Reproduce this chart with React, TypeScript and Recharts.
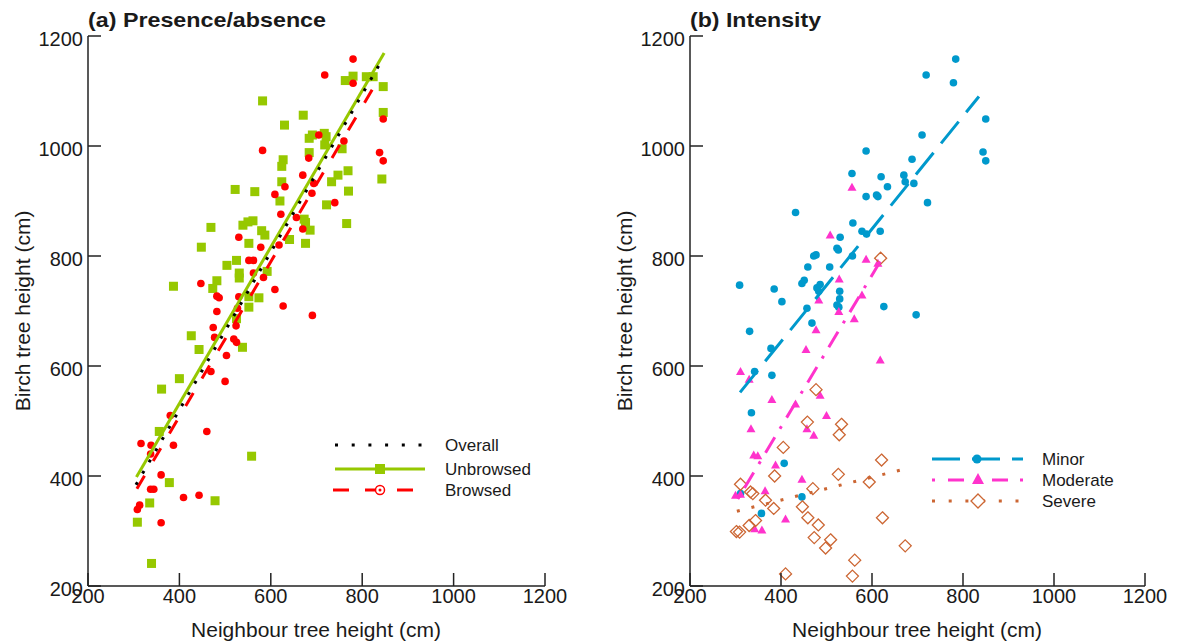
import React from "react";
import { ScatterChart, Scatter, XAxis, YAxis } from "recharts";

const FONT = '"Liberation Sans", Arial, sans-serif';
const INK = "#1a1a1a";
const AXIS = "#222222";

const GREEN = "#96c800";
const RED = "#ff0000";
const BLUE = "#0099cc";
const PINK = "#ff33cc";
const ORANGE = "#cc6633";

const axisTicks = [200, 400, 600, 800, 1000, 1200];

// (a) presence/absence of browsing: [neighbour height, birch height]
const unbrowsedPts = [
  [780, 1127], [763, 1119], [809, 1126], [824, 1126], [846, 1108], [582, 1082],
  [846, 1061], [671, 1056], [630, 1038], [684, 1014], [691, 1020], [717, 1023],
  [721, 1017], [718, 1002], [684, 988], [756, 995], [627, 975], [624, 963],
  [843, 940], [769, 955], [747, 947], [733, 935], [624, 935], [522, 921],
  [565, 917], [620, 900], [770, 918], [722, 893], [673, 867], [676, 861],
  [686, 847], [766, 859], [539, 856], [550, 862], [561, 864], [469, 852],
  [580, 846], [587, 838], [552, 823], [641, 830], [676, 823], [448, 816],
  [504, 783], [525, 792], [531, 769], [531, 760], [592, 772], [482, 755],
  [473, 741], [387, 745], [552, 726], [574, 724], [552, 707], [525, 686],
  [426, 655], [443, 630], [538, 634], [400, 577], [361, 558], [356, 481],
  [558, 436], [378, 388], [478, 355], [335, 351], [308, 316], [339, 241],
];

const browsedPts = [
  [780, 1158], [718, 1129], [780, 1114], [846, 1049], [705, 1020], [582, 992],
  [760, 1009], [683, 978], [838, 988], [846, 973], [670, 947], [631, 926],
  [694, 932], [690, 914], [609, 912], [740, 897], [622, 876], [656, 870],
  [670, 849], [530, 834], [578, 816], [618, 820], [562, 792], [552, 792],
  [562, 769], [584, 761], [447, 750], [482, 727], [487, 724], [530, 726],
  [609, 739], [627, 709], [691, 692], [482, 699], [527, 705], [524, 673],
  [474, 670], [477, 652], [503, 619], [519, 649], [525, 643], [469, 590],
  [500, 572], [460, 481], [380, 510], [316, 459], [338, 456], [387, 456],
  [337, 440], [360, 402], [409, 361], [443, 365], [337, 376], [344, 376],
  [313, 347], [308, 339], [360, 315],
];

const overallFit = [[305, 384], [846, 1160]];
const unbrowsedFit = [[306, 398], [848, 1169]];
const browsedFit = [[307, 377], [838, 1125]];

// (b) browsing intensity
const minorPts = [
  [784, 1158], [719, 1129], [779, 1115], [850, 1049], [844, 989], [850, 973],
  [710, 1020], [587, 991], [688, 976], [556, 950], [620, 944], [670, 947],
  [673, 935], [692, 932], [634, 926], [587, 908], [610, 911], [613, 908],
  [722, 897], [432, 879], [558, 860], [578, 845], [588, 840], [618, 845],
  [530, 834], [477, 802], [472, 800], [523, 814], [526, 811], [557, 800],
  [459, 780], [507, 780], [451, 756], [446, 750], [309, 747], [385, 740],
  [479, 742], [483, 736], [486, 748], [529, 736], [402, 717], [457, 705],
  [523, 711], [626, 708], [468, 678], [529, 722], [527, 707], [697, 693],
  [331, 663], [378, 632], [342, 590], [380, 583], [335, 515], [407, 423],
  [446, 362], [357, 332], [311, 368],
];

const moderatePts = [
  [556, 925], [508, 838], [587, 794], [613, 787], [528, 758], [578, 729],
  [483, 720], [527, 699], [561, 686], [477, 666], [455, 630], [618, 611],
  [311, 590], [330, 576], [486, 547], [380, 539], [432, 531], [500, 510],
  [457, 486], [472, 474], [334, 486], [340, 438], [349, 437], [388, 420],
  [446, 394], [311, 367], [365, 373], [300, 365], [410, 322], [342, 304],
  [358, 302],
];

const severePts = [
  [619, 796], [477, 557], [458, 498], [533, 494], [528, 475], [405, 452],
  [386, 400], [526, 403], [621, 429], [594, 389], [311, 385], [333, 371],
  [338, 368], [366, 356], [384, 341], [470, 377], [447, 344], [459, 324],
  [344, 319], [330, 310], [302, 299], [309, 298], [482, 311], [473, 288],
  [509, 284], [498, 269], [623, 324], [673, 273], [562, 247], [557, 218],
  [410, 222],
];

const minorFit = [[310, 552], [835, 1090]];
const moderateFit = [[305, 358], [618, 790]];
const severeFit = [[303, 336], [668, 412]];

const toPts = (a: number[][]) => a.map(([x, y]) => ({ x, y }));

const Square = (p: any) => (
  <rect x={p.cx - 4.5} y={p.cy - 4.5} width={9} height={9} fill={GREEN} />
);
const RedDot = (p: any) => <circle cx={p.cx} cy={p.cy} r={3.8} fill={RED} />;
const BlueDot = (p: any) => <circle cx={p.cx} cy={p.cy} r={3.8} fill={BLUE} />;
const Tri = (p: any) => (
  <polygon
    points={`${p.cx},${p.cy - 4.5} ${p.cx + 4.5},${p.cy + 3.5} ${p.cx - 4.5},${p.cy + 3.5}`}
    fill={PINK}
  />
);
const Diamond = (p: any) => (
  <polygon
    points={`${p.cx},${p.cy - 6} ${p.cx + 6},${p.cy} ${p.cx},${p.cy + 6} ${p.cx - 6},${p.cy}`}
    fill="none"
    stroke={ORANGE}
    strokeWidth={1.3}
  />
);
const NoDot = () => <g />;

const XTick = (props: any) => {
  const { x, y, payload } = props;
  return (
    <g>
      <line x1={x} y1={y} x2={x} y2={y - 13} stroke={AXIS} strokeWidth={1.5} />
      <text x={x} y={y + 17} textAnchor="middle" fontSize={20} fontFamily={FONT} fill={INK}>
        {payload.value}
      </text>
    </g>
  );
};

const YTick = (props: any) => {
  const { x, y, payload } = props;
  return (
    <g>
      <line x1={x} y1={y} x2={x + 13} y2={y} stroke={AXIS} strokeWidth={1.5} />
      <text x={x - 5} y={y + 10} textAnchor="end" fontSize={20} fontFamily={FONT} fill={INK}>
        {payload.value}
      </text>
    </g>
  );
};

function Axes() {
  return (
    <>
      <XAxis
        type="number"
        dataKey="x"
        domain={[200, 1200]}
        ticks={axisTicks}
        interval={0}
        tickSize={0}
        tickMargin={0}
        tickLine={false}
        tick={<XTick />}
        axisLine={{ stroke: AXIS, strokeWidth: 1.5 }}
        height={30}
        allowDataOverflow
      />
      <YAxis
        type="number"
        dataKey="y"
        domain={[200, 1200]}
        ticks={axisTicks}
        interval={0}
        tickSize={0}
        tickMargin={0}
        tickLine={false}
        tick={<YTick />}
        axisLine={{ stroke: AXIS, strokeWidth: 1.5 }}
        width={60}
        allowDataOverflow
      />
    </>
  );
}

function fitLine(data: number[][], stroke: string, dash?: string) {
  return (
    <Scatter
      data={toPts(data)}
      shape={NoDot}
      line={{ stroke, strokeWidth: 3, strokeDasharray: dash }}
      isAnimationActive={false}
    />
  );
}

const txt = { fontFamily: FONT, fill: INK } as const;

export default function App() {
  return (
    <div style={{ position: "absolute", left: 0, top: 0, width: 1185, height: 644, background: "#fff" }}>
      <div style={{ position: "absolute", left: 0, top: 0 }}>
        <ScatterChart width={590} height={644} margin={{ top: 36, right: 45, bottom: 28, left: 28 }}>
          {Axes()}
          <Scatter data={toPts(unbrowsedPts)} shape={Square} isAnimationActive={false} />
          <Scatter data={toPts(browsedPts)} shape={RedDot} isAnimationActive={false} />
          {fitLine(unbrowsedFit, GREEN)}
          {fitLine(browsedFit, RED, "15 17")}
          {fitLine(overallFit, "#000", "3 10")}
        </ScatterChart>
      </div>
      <div style={{ position: "absolute", left: 600, top: 0 }}>
        <ScatterChart width={585} height={644} margin={{ top: 36, right: 40, bottom: 28, left: 30 }}>
          {Axes()}
          <Scatter data={toPts(minorPts)} shape={BlueDot} isAnimationActive={false} />
          <Scatter data={toPts(moderatePts)} shape={Tri} isAnimationActive={false} />
          <Scatter data={toPts(severePts)} shape={Diamond} isAnimationActive={false} />
          {fitLine(minorFit, BLUE, "28 12")}
          {fitLine(moderateFit, PINK, "3 10 18 10")}
          {fitLine(severeFit, ORANGE, "3 12")}
        </ScatterChart>
      </div>
      <svg
        width={1185}
        height={644}
        style={{ position: "absolute", left: 0, top: 0, pointerEvents: "none" }}
      >
        <text x={88} y={27} fontSize={21} fontWeight="bold" textLength={238} lengthAdjust="spacingAndGlyphs" {...txt}>
          (a) Presence/absence
        </text>
        <text x={690} y={27} fontSize={21} fontWeight="bold" textLength={131} lengthAdjust="spacingAndGlyphs" {...txt}>
          (b) Intensity
        </text>

        <text transform="translate(30,311) rotate(-90)" textAnchor="middle" fontSize={21} {...txt}>
          Birch tree height (cm)
        </text>
        <text transform="translate(632,311) rotate(-90)" textAnchor="middle" fontSize={21} {...txt}>
          Birch tree height (cm)
        </text>
        <text x={316} y={637} textAnchor="middle" fontSize={21} {...txt}>Neighbour tree height (cm)</text>
        <text x={917} y={637} textAnchor="middle" fontSize={21} {...txt}>Neighbour tree height (cm)</text>

        {/* legend (a) */}
        <line x1={335} y1={445} x2={425} y2={445} stroke="#000" strokeWidth={3} strokeDasharray="3 13.7" />
        <line x1={335} y1={469} x2={425} y2={469} stroke={GREEN} strokeWidth={3} />
        <rect x={375} y={464} width={10} height={10} fill={GREEN} />
        <line x1={333} y1={490} x2={425} y2={490} stroke={RED} strokeWidth={3} strokeDasharray="16 16" />
        <circle cx={380} cy={490} r={4.5} fill="#fff" stroke={RED} strokeWidth={1.5} />
        <circle cx={380} cy={490} r={1.5} fill={RED} />
        <text x={445} y={451} fontSize={17} {...txt}>Overall</text>
        <text x={445} y={475} fontSize={17} {...txt}>Unbrowsed</text>
        <text x={445} y={496} fontSize={17} {...txt}>Browsed</text>

        {/* legend (b) */}
        <line x1={932} y1={459} x2={1023} y2={459} stroke={BLUE} strokeWidth={3} strokeDasharray="28 12" />
        <circle cx={977} cy={459} r={4.5} fill={BLUE} />
        <line x1={932} y1={480} x2={1023} y2={480} stroke={PINK} strokeWidth={3} strokeDasharray="3 13 16 12" />
        <polygon points="978,473 984,484 972,484" fill={PINK} />
        <line x1={932} y1={501} x2={1023} y2={501} stroke={ORANGE} strokeWidth={3} strokeDasharray="3 13.7" />
        <polygon points="978,494 985,501 978,508 971,501" fill="#fff" stroke={ORANGE} strokeWidth={1.3} />
        <text x={1042} y={465} fontSize={17} {...txt}>Minor</text>
        <text x={1042} y={486} fontSize={17} {...txt}>Moderate</text>
        <text x={1042} y={507} fontSize={17} {...txt}>Severe</text>
      </svg>
    </div>
  );
}
